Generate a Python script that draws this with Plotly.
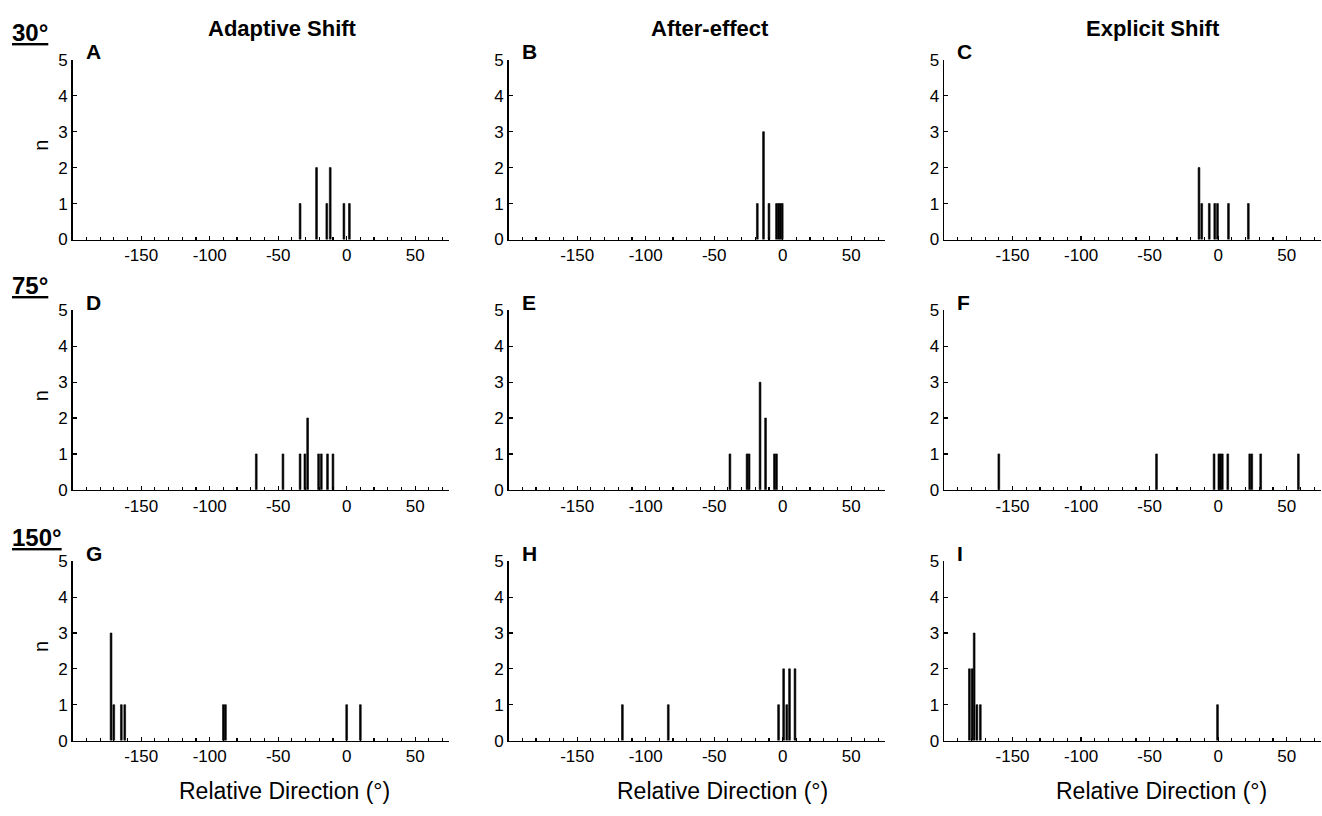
import plotly.graph_objects as go

W, H = 1322, 816

# ---- data (bin centre in degrees, count) ----
A_pos = [-34, -22, -14.5, -12, -2, 2]
A_n = [1, 2, 1, 2, 1, 1]
B_pos = [-18.5, -14, -10, -4.5, -3, -1.7, -0.3]
B_n = [1, 3, 1, 1, 1, 1, 1]
C_pos = [-14, -12, -6.5, -2.5, -0.5, 7.5, 22]
C_n = [2, 1, 1, 1, 1, 1, 1]
D_pos = [-66, -46.5, -34, -30.5, -28.5, -20.5, -18.5, -14, -10]
D_n = [1, 1, 1, 1, 2, 1, 1, 1, 1]
E_pos = [-38.5, -26, -24.5, -16.5, -12.5, -6, -4.5]
E_n = [1, 1, 1, 3, 2, 1, 1]
F_pos = [-160, -45, -3, 0.5, 1.7, 3, 7, 23, 24.5, 31, 58.5]
F_n = [1, 1, 1, 1, 1, 1, 1, 1, 1, 1, 1]
G_pos = [-172, -170, -164.5, -162, -90, -88.5, 0, 10]
G_n = [3, 1, 1, 1, 1, 1, 1, 1]
H_pos = [-117, -83.5, -3, 0.7, 3, 5, 9]
H_n = [1, 1, 1, 2, 1, 2, 2]
I_pos = [-181.5, -179.5, -178, -176, -173.5, -0.5]
I_n = [2, 2, 3, 1, 1, 1]

column_titles = ["Adaptive Shift", "After-effect", "Explicit Shift"]
row_labels = ["30°", "75°", "150°"]
panel_letters = ["A", "B", "C", "D", "E", "F", "G", "H", "I"]
x_label = "Relative Direction (°)"
y_label = "n"
x_major_ticks = [-150, -100, -50, 0, 50]
x_major_text = ["-150", "-100", "-50", "0", "50"]
x_minor_ticks = list(range(-190, 80, 10))
y_ticks = [0, 1, 2, 3, 4, 5]

panels = [(A_pos, A_n), (B_pos, B_n), (C_pos, C_n),
          (D_pos, D_n), (E_pos, E_n), (F_pos, F_n),
          (G_pos, G_n), (H_pos, H_n), (I_pos, I_n)]

# ---- layout geometry (pixels) ----
col_px = [(72.7, 449.4), (508.7, 885.4), (944.0, 1321.0)]
row_px = [(52.0, 236.0), (308.5, 492.3), (565.5, 749.0)]

FONT = "Arial, Liberation Sans, sans-serif"


def fx(px):
    return px / W


def fy(py):
    return 1 - py / H


fig = go.Figure()
layout = dict(
    width=W, height=H,
    margin=dict(l=0, r=0, t=0, b=0),
    paper_bgcolor="white", plot_bgcolor="white",
    showlegend=False, bargap=0,
    font=dict(family=FONT, color="black"),
)

annotations = []
for i, (pos, n) in enumerate(panels):
    r, c = divmod(i, 3)
    k = "" if i == 0 else str(i + 1)
    fig.add_trace(go.Bar(
        x=pos, y=n, width=1.3,
        marker=dict(color="black", line=dict(width=0.6, color="black")),
        xaxis="x" + k, yaxis="y" + k, hoverinfo="skip",
    ))
    x0, x1 = col_px[c]
    y0, y1 = row_px[r]
    layout["xaxis" + k] = dict(
        domain=[fx(x0), fx(x1)], anchor="y" + k, range=[-200, 75],
        showgrid=False, zeroline=False, showline=True,
        linecolor="black", linewidth=1.5,
        ticks="inside", ticklen=4, tickwidth=1.2, tickcolor="black",
        tickmode="array", tickvals=x_major_ticks, ticktext=x_major_text,
        tickfont=dict(size=17, family=FONT, color="black"),
        minor=dict(tickmode="array", tickvals=x_minor_ticks, ticks="inside",
                   ticklen=3, tickwidth=1.2, tickcolor="black", showgrid=False),
        fixedrange=True,
    )
    layout["yaxis" + k] = dict(
        domain=[fy(y1), fy(y0)], anchor="x" + k, range=[0, 5],
        showgrid=False, zeroline=False, showline=True,
        linecolor="black", linewidth=1.5,
        ticks="inside", ticklen=4, tickwidth=1.2, tickcolor="black",
        tickmode="array", tickvals=y_ticks,
        tickfont=dict(size=17, family=FONT, color="black"),
        fixedrange=True,
    )
    # panel letter
    annotations.append(dict(
        text="<b>%s</b>" % panel_letters[i], x=fx(x0 + 11), y=fy(y0 - 8),
        xref="paper", yref="paper", xanchor="left", yanchor="middle",
        showarrow=False, font=dict(size=21, family=FONT, color="black"),
    ))

title_x = [282, 710, 1153]
xlab_x = [284, 722, 1161]
for c in range(3):
    annotations.append(dict(
        text="<b>%s</b>" % column_titles[c], x=fx(title_x[c]), y=fy(20),
        xref="paper", yref="paper", xanchor="center", yanchor="middle",
        showarrow=False, font=dict(size=22, family=FONT, color="black"),
    ))
    annotations.append(dict(
        text=x_label, x=fx(xlab_x[c]), y=fy(801),
        xref="paper", yref="paper", xanchor="center", yanchor="middle",
        showarrow=False, font=dict(size=23, family=FONT, color="black"),
    ))

row_label_y = [24, 283, 541]
for r in range(3):
    annotations.append(dict(
        text="<b><u>%s</u></b>" % row_labels[r], x=fx(10), y=fy(row_label_y[r]),
        xref="paper", yref="paper", xanchor="left", yanchor="middle",
        showarrow=False, font=dict(size=24, family=FONT, color="black"),
    ))
    y0, y1 = row_px[r]
    annotations.append(dict(
        text=y_label, x=fx(41), y=fy((y0 + y1) / 2 - 4), textangle=-90,
        xref="paper", yref="paper", xanchor="center", yanchor="middle",
        showarrow=False, font=dict(size=20, family=FONT, color="black"),
    ))

layout["annotations"] = annotations
fig.update_layout(**layout)
fig.write_html("out.html",
               config={"displayModeBar": False, "staticPlot": True},
               post_script="document.body.style.margin='0';document.body.style.overflow='hidden';")
